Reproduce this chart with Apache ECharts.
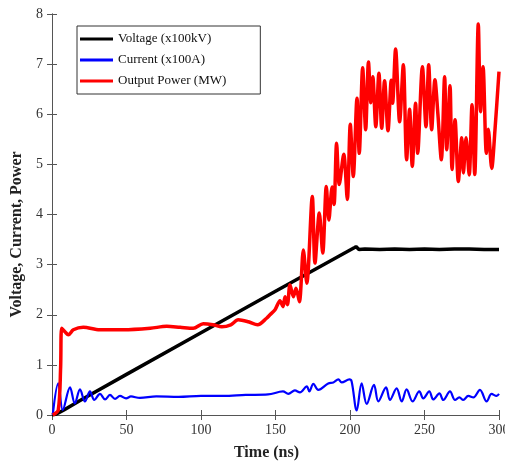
<!DOCTYPE html>
<html>
<head>
<meta charset="utf-8">
<script src="https://cdn.jsdelivr.net/npm/echarts@6/dist/echarts.min.js"></script>
<style>
html,body{margin:0;padding:0;background:#fff;}
#chart{width:505px;height:463px;}
</style>
</head>
<body>
<div id="chart"></div>
<script>
// ---- data ----
const seriesNames = ['Voltage (x100kV)', 'Current (x100A)', 'Output Power (MW)'];
const xTicks = [0, 50, 100, 150, 200, 250, 300];
const yTicks = [0, 1, 2, 3, 4, 5, 6, 7, 8];

const voltageT = [0, 3, 8, 20, 50, 100, 150, 202.5, 204, 206, 210, 220, 230, 240, 250, 260, 270, 280, 290, 300];
const voltageV = [0, 0.02, 0.1, 0.31, 0.81, 1.64, 2.47, 3.33, 3.36, 3.3, 3.31, 3.3, 3.31, 3.3, 3.31, 3.3, 3.31, 3.31, 3.3, 3.3];

const currentT = [0.5, 4.2, 7.2, 12.1, 15.3, 18.8, 22.1, 25.5, 28.4, 32.2, 35.6, 38.9, 42.3, 45.6, 49.7, 53, 59, 70, 85, 100, 115, 130, 145, 155, 158.6, 163, 166.4, 171, 172.7, 175.4, 178.7, 185.4, 188.8, 192.2, 194.4, 199.6, 201.1, 204.5, 207.8, 211.2, 216.1, 219, 224.2, 226.8, 231.3, 234.7, 238, 242, 246.5, 249.2, 253.2, 255.9, 260, 262.6, 267.1, 270.5, 273.4, 276, 279.4, 282.8, 287.2, 291.7, 295, 298.4, 300];
const currentV = [0, 0.63, 0.1, 0.55, 0.23, 0.51, 0.27, 0.47, 0.3, 0.42, 0.31, 0.4, 0.32, 0.38, 0.33, 0.37, 0.34, 0.37, 0.36, 0.38, 0.38, 0.4, 0.41, 0.47, 0.42, 0.49, 0.45, 0.57, 0.47, 0.62, 0.5, 0.63, 0.65, 0.71, 0.65, 0.71, 0.67, 0.09, 0.63, 0.22, 0.6, 0.27, 0.55, 0.3, 0.53, 0.27, 0.51, 0.27, 0.47, 0.33, 0.47, 0.31, 0.43, 0.3, 0.47, 0.3, 0.35, 0.3, 0.38, 0.35, 0.5, 0.27, 0.42, 0.38, 0.42];

const powerT = [0.5, 4.2, 5.8, 6.5, 8.7, 11, 14.3, 21, 32, 48, 66, 77, 86, 94.8, 101.5, 108, 114, 120, 125, 131.8, 138, 144, 146.3, 149.7, 153, 155, 156.4, 158, 159.7, 162, 163.8, 166, 168.7, 171, 174.7, 176.5, 179.4, 181.7, 184.1, 185.8, 188, 189.3, 191, 192.8, 195.8, 198.2, 200.2, 202.2, 204.7, 206.2, 208.5, 210.5, 212.4, 214, 215.3, 217.3, 219.4, 221.3, 223.2, 225.5, 227.7, 228.6, 230.6, 233.3, 235.8, 238, 240, 241.8, 244, 245.4, 248.6, 251, 252.8, 254.8, 257, 259, 261.3, 263.5, 264.9, 267.1, 268.5, 270.5, 272.7, 275, 276.1, 277.9, 280, 281.9, 283.7, 286.1, 287.6, 289.3, 291.5, 292.8, 295.1, 297.3, 300];
const powerV = [0, 0.1, 0.96, 1.73, 1.66, 1.6, 1.7, 1.75, 1.7, 1.7, 1.73, 1.77, 1.75, 1.73, 1.82, 1.8, 1.76, 1.8, 1.9, 1.86, 1.8, 1.93, 2.0, 2.1, 2.28, 2.16, 2.36, 2.2, 2.6, 2.36, 2.53, 2.26, 3.29, 2.63, 4.36, 3.03, 4.03, 3.23, 4.56, 3.89, 4.55, 4.2, 5.42, 4.6, 5.2, 4.3, 5.8, 4.76, 6.32, 5.22, 6.93, 5.69, 7.04, 6.23, 6.75, 5.75, 6.82, 5.72, 6.67, 5.67, 6.68, 6.22, 7.3, 5.85, 6.99, 5.09, 6.1, 4.96, 6.22, 5.22, 6.95, 5.75, 6.99, 5.69, 6.69, 6.0, 5.09, 6.75, 5.29, 6.57, 4.9, 5.89, 4.66, 5.53, 4.83, 5.53, 4.79, 6.19, 4.8, 7.8, 6.05, 6.95, 5.22, 5.7, 4.92, 5.69, 6.85];

const colors = ['#000000', '#0000ff', '#ff0000'];

function pairs(t, v) { return t.map((x, i) => [x, v[i]]); }

const font = 'Liberation Serif';
const chart = echarts.init(document.getElementById('chart'), null, { renderer: 'canvas' });

const axisLineStyle = { color: '#555', width: 1 };

const option = {
  animation: false,
  backgroundColor: '#fff',
  grid: { left: 52, right: 6, top: 14, bottom: 48, containLabel: false, outerBoundsMode: 'none' },
  legend: {
    orient: 'vertical',
    left: 77,
    top: 26,
    data: seriesNames,
    icon: 'rect',
    itemWidth: 33,
    itemHeight: 3,
    itemGap: 7,
    backgroundColor: '#fff',
    borderColor: '#333',
    borderWidth: 1,
    padding: [6, 34, 6, 3],
    textStyle: { fontFamily: font, fontSize: 13, color: '#111', lineHeight: 14 }
  },
  xAxis: [
    {
      type: 'value', min: xTicks[0], max: xTicks[xTicks.length - 1], interval: 50,
      name: 'Time (ns)', nameLocation: 'middle', nameGap: 30,
      nameTextStyle: { fontFamily: font, fontSize: 16, fontWeight: 'bold', color: '#222', padding: [0, 18, 0, 0] },
      axisLine: { show: true, lineStyle: axisLineStyle },
      axisTick: { show: true, inside: true, length: 5, lineStyle: axisLineStyle },
      axisLabel: { fontFamily: font, fontSize: 14, color: '#333', margin: 8 },
      splitLine: { show: false }
    },
    {
      type: 'value', position: 'top', min: xTicks[0], max: xTicks[xTicks.length - 1], interval: 50,
      axisLine: { show: true, lineStyle: axisLineStyle },
      axisTick: { show: true, inside: true, length: 5, lineStyle: axisLineStyle },
      axisLabel: { show: false },
      splitLine: { show: false }
    }
  ],
  yAxis: [
    {
      type: 'value', min: yTicks[0], max: yTicks[yTicks.length - 1], interval: 1,
      name: 'Voltage, Current, Power', nameLocation: 'middle', nameGap: 24, nameRotate: 90,
      nameTextStyle: { fontFamily: font, fontSize: 16, fontWeight: 'bold', color: '#222', padding: [0, 40, 0, 0] },
      axisLine: { show: true, lineStyle: axisLineStyle },
      axisTick: { show: true, inside: true, length: 5, lineStyle: axisLineStyle },
      axisLabel: { fontFamily: font, fontSize: 14, color: '#333', margin: 9 },
      splitLine: { show: false }
    },
    {
      type: 'value', position: 'right', min: yTicks[0], max: yTicks[yTicks.length - 1], interval: 1,
      axisLine: { show: true, lineStyle: axisLineStyle },
      axisTick: { show: true, inside: true, length: 5, lineStyle: axisLineStyle },
      axisLabel: { show: false },
      splitLine: { show: false }
    }
  ],
  series: [
    {
      name: seriesNames[0], type: 'line', xAxisIndex: 0, yAxisIndex: 0,
      data: pairs(voltageT, voltageV), showSymbol: false, symbol: 'none',
      lineStyle: { color: colors[0], width: 3.5 }, itemStyle: { color: colors[0] }, z: 2
    },
    {
      name: seriesNames[1], type: 'line', xAxisIndex: 0, yAxisIndex: 0,
      data: pairs(currentT, currentV), showSymbol: false, symbol: 'none', smooth: 0.35,
      lineStyle: { color: colors[1], width: 2.2 }, itemStyle: { color: colors[1] }, z: 3
    },
    {
      name: seriesNames[2], type: 'line', xAxisIndex: 0, yAxisIndex: 0,
      data: pairs(powerT, powerV), showSymbol: false, symbol: 'none', smooth: 0.3,
      lineStyle: { color: colors[2], width: 3.5 }, itemStyle: { color: colors[2] }, z: 4
    }
  ]
};
chart.setOption(option);
</script>
</body>
</html>
